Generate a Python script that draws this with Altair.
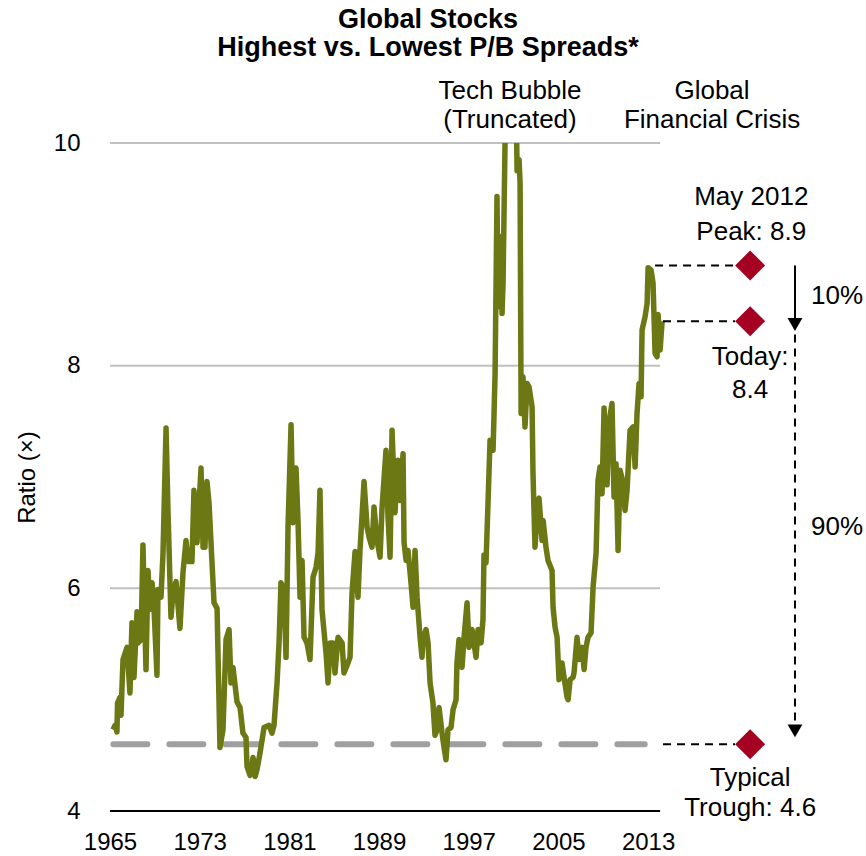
import altair as alt
import pandas as pd

# Highest vs. lowest P/B spread ratio, global stocks (time in fractional years)
years = [
    1965.27, 1965.45, 1965.62, 1965.67, 1965.89, 1965.98, 1966.16, 1966.52, 1966.78, 1966.96,
    1967.14, 1967.41, 1967.50, 1967.77, 1967.94, 1968.21, 1968.39, 1968.57, 1968.75, 1968.93,
    1969.19, 1969.28, 1969.55, 1969.73, 1970.00, 1970.17, 1970.44, 1970.62, 1970.89, 1971.24,
    1971.51, 1971.78, 1971.96, 1972.31, 1972.49, 1972.76, 1973.12, 1973.30, 1973.39, 1973.47,
    1973.65, 1973.83, 1974.10, 1974.28, 1974.55, 1974.81, 1975.08, 1975.35, 1975.62, 1975.79,
    1975.97, 1976.33, 1976.60, 1976.86, 1977.13, 1977.22, 1977.49, 1977.76, 1977.94, 1978.11,
    1978.38, 1978.74, 1979.18, 1979.45, 1979.63, 1979.90, 1980.08, 1980.25, 1980.52, 1980.70,
    1980.88, 1981.15, 1981.32, 1981.59, 1981.77, 1981.95, 1982.13, 1982.31, 1982.57, 1982.84,
    1983.11, 1983.38, 1983.56, 1983.73, 1983.91, 1984.27, 1984.45, 1984.63, 1984.89, 1985.07,
    1985.34, 1985.70, 1985.87, 1986.23, 1986.41, 1986.59, 1986.86, 1987.12, 1987.30, 1987.66,
    1987.93, 1988.11, 1988.37, 1988.55, 1988.82, 1989.09, 1989.27, 1989.62, 1989.80, 1989.98,
    1990.16, 1990.42, 1990.69, 1990.87, 1991.14, 1991.23, 1991.41, 1991.58, 1991.85, 1992.03,
    1992.21, 1992.39, 1992.66, 1992.83, 1992.92, 1993.19, 1993.37, 1993.55, 1993.81, 1993.99,
    1994.17, 1994.35, 1994.62, 1994.80, 1994.97, 1995.15, 1995.42, 1995.60, 1995.87, 1995.95,
    1996.13, 1996.40, 1996.58, 1996.85, 1997.03, 1997.29, 1997.47, 1997.65, 1997.83, 1998.10,
    1998.27, 1998.36, 1998.54, 1998.72, 1998.90, 1999.17, 1999.35, 1999.52, 1999.61, 1999.88,
    1999.97, 2000.06, 2000.24, 2000.33, 2000.59, 2000.86, 2001.13, 2001.31, 2001.49, 2001.58,
    2001.67, 2001.84, 2002.02, 2002.20, 2002.38, 2002.65, 2002.73, 2002.91, 2003.18, 2003.27,
    2003.54, 2003.63, 2003.89, 2004.07, 2004.43, 2004.52, 2004.70, 2004.88, 2005.05, 2005.32,
    2005.50, 2005.77, 2005.86, 2006.04, 2006.30, 2006.39, 2006.66, 2006.84, 2007.11, 2007.29,
    2007.46, 2007.64, 2007.91, 2008.09, 2008.36, 2008.53, 2008.71, 2008.89, 2009.07, 2009.34,
    2009.52, 2009.78, 2009.96, 2010.14, 2010.32, 2010.50, 2010.77, 2010.94, 2011.12, 2011.39,
    2011.66, 2011.84, 2012.01, 2012.19, 2012.37, 2012.46, 2012.73, 2012.91, 2013.00, 2013.26,
    2013.44, 2013.62, 2013.80, 2013.89, 2014.07, 2014.25,
]
ratio = [
    4.73, 4.77, 4.71, 4.97, 5.02, 4.86, 5.36, 5.47, 5.06, 5.69,
    5.20, 5.79, 5.51, 5.54, 6.39, 5.27, 6.16, 5.81, 6.05, 5.81,
    5.22, 5.99, 5.92, 6.32, 7.44, 6.70, 5.74, 5.96, 6.06, 5.64,
    6.14, 6.43, 6.24, 6.24, 6.88, 6.41, 7.08, 6.37, 6.70, 6.37,
    6.96, 6.77, 6.23, 5.87, 5.82, 4.57, 4.73, 5.54, 5.63, 5.15,
    5.29, 4.98, 4.93, 4.70, 4.66, 4.40, 4.32, 4.48, 4.31, 4.37,
    4.52, 4.75, 4.77, 4.70, 4.77, 5.15, 5.51, 6.05, 5.99, 5.38,
    6.55, 7.47, 6.59, 7.08, 6.61, 5.92, 6.25, 5.56, 5.51, 5.36,
    6.10, 6.19, 6.32, 6.88, 5.81, 5.42, 5.15, 5.51, 5.51, 5.24,
    5.56, 5.51, 5.24, 5.33, 5.38, 5.96, 6.33, 5.92, 6.34, 6.96,
    6.55, 6.46, 6.37, 6.73, 6.43, 6.28, 6.73, 7.24, 6.64, 6.28,
    7.42, 6.68, 7.15, 6.79, 7.21, 6.41, 6.25, 6.34, 6.05, 5.83,
    6.34, 5.92, 5.56, 5.38, 5.54, 5.63, 5.51, 5.15, 4.97, 4.68,
    4.73, 4.93, 4.70, 4.57, 4.46, 4.73, 4.75, 4.91, 5.00, 5.33,
    5.54, 5.29, 5.56, 5.87, 5.47, 5.63, 5.51, 5.38, 5.63, 5.51,
    5.72, 6.30, 6.23, 6.77, 7.33, 7.24, 7.93, 9.52, 8.53, 9.16,
    8.47, 8.74, 10.03, 10.60, 12.00, 12.60, 11.20, 9.75, 9.85, 9.64,
    7.57, 7.90, 7.45, 7.84, 7.81, 7.63, 7.04, 6.37, 6.79, 6.81,
    6.43, 6.61, 6.37, 6.25, 6.16, 5.83, 5.65, 5.56, 5.18, 5.33,
    5.20, 5.02, 5.00, 5.18, 5.20, 5.24, 5.56, 5.36, 5.47, 5.27,
    5.47, 5.56, 5.60, 6.01, 6.32, 6.97, 7.09, 6.85, 7.62, 6.93,
    7.50, 7.66, 6.82, 7.12, 6.34, 7.06, 6.95, 6.70, 6.88, 7.42,
    7.45, 7.09, 7.57, 7.84, 7.72, 8.32, 8.44, 8.56, 8.88, 8.86,
    8.74, 8.11, 8.08, 8.46, 8.14, 8.40,
]

# Reference levels
grid_levels = [6, 8, 10]
axis_span = [1965.0, 2014.07]
peak_value = 8.9
today_value = 8.4
trough_value = 4.6
marker_year = 2022.1
arrow_year = 2026.1

# Annotation texts: (text, year, ratio)
note_text = ["Tech Bubble", "(Truncated)", "Global", "Financial Crisis",
             "May 2012", "Peak: 8.9", "Today:", "8.4",
             "Typical", "Trough: 4.6", "10%", "90%"]
note_x = [2000.68, 2000.68, 2018.70, 2018.70,
          2022.2, 2022.2, 2022.1, 2022.1,
          2022.1, 2022.1, 2029.85, 2029.85]
note_y = [10.47, 10.21, 10.47, 10.21,
          9.515, 9.20, 8.08, 7.78,
          4.30, 4.03, 8.63, 6.55]

tick_years = [1965, 1973, 1981, 1989, 1997, 2005, 2013]

FONT = "Liberation Sans"
OLIVE = "#6B7814"
RED = "#A50021"
FS = 24
NOTE_FS = 26

x_scale = alt.Scale(domain=[1965, 2031.9], nice=False, zero=False)
y_scale = alt.Scale(domain=[4, 10], nice=False, zero=False)

x_axis = alt.Axis(values=tick_years, format="d", domain=False, ticks=False, grid=False,
                  labelFont=FONT, labelFontSize=FS, labelColor="black",
                  labelPadding=19, title=None, labelFlush=False)
y_axis = alt.Axis(values=[4, 6, 8, 10], format="d", domain=False, ticks=False, grid=False,
                  labelFont=FONT, labelFontSize=FS, labelColor="black", labelPadding=30,
                  title="Ratio (×)", titleFont=FONT, titleFontSize=FS,
                  titleFontWeight="normal", titleColor="black", titlePadding=14)


def X(field):
    return alt.X(field, type="quantitative", scale=x_scale, axis=x_axis)


def Y(field):
    return alt.Y(field, type="quantitative", scale=y_scale, axis=y_axis)


series = pd.DataFrame({"year": years, "ratio": ratio})

grid_df = pd.DataFrame({"level": grid_levels, "x0": axis_span[0], "x1": axis_span[1]})
grid = alt.Chart(grid_df).mark_rule(color="#C0C0C0", strokeWidth=2).encode(
    x=X("x0"), x2="x1", y=Y("level"))

base_df = pd.DataFrame({"level": [4], "x0": [axis_span[0]], "x1": [axis_span[1]]})
baseline = alt.Chart(base_df).mark_rule(color="black", strokeWidth=2).encode(
    x=X("x0"), x2="x1", y=Y("level"))

trough_df = pd.DataFrame({"level": [trough_value], "x0": [1965.3], "x1": [2012.7]})
trough_line = alt.Chart(trough_df).mark_rule(
    color="#A0A0A0", strokeWidth=6, strokeDash=[34, 22], strokeCap="round"
).encode(x=X("x0"), x2="x1", y=Y("level"))

line = alt.Chart(series).mark_line(
    color=OLIVE, strokeWidth=5.5, strokeJoin="round", clip=True
).encode(x=X("year"), y=Y("ratio"))

leader_df = pd.DataFrame({
    "level": [peak_value, today_value, trough_value],
    "x0": [2013.62, 2014.33, 2014.33],
    "x1": [2020.75, 2020.75, 2020.75],
})
leaders = alt.Chart(leader_df).mark_rule(
    color="black", strokeWidth=2, strokeDash=[8, 6]
).encode(x=X("x0"), x2="x1", y=Y("level"))

marker_df = pd.DataFrame({"year": marker_year,
                          "level": [peak_value, today_value, trough_value]})
markers = alt.Chart(marker_df).mark_point(
    shape="diamond", filled=True, size=900, color=RED, opacity=1
).encode(x=X("year"), y=Y("level"))

arrow_solid_df = pd.DataFrame({"year": [arrow_year], "y0": [peak_value], "y1": [8.40]})
arrow_solid = alt.Chart(arrow_solid_df).mark_rule(color="black", strokeWidth=2).encode(
    x=X("year"), y=Y("y0"), y2="y1")

arrow_dash_df = pd.DataFrame({"year": [arrow_year], "y0": [8.28], "y1": [4.75]})
arrow_dash = alt.Chart(arrow_dash_df).mark_rule(
    color="black", strokeWidth=2, strokeDash=[8, 6]).encode(
    x=X("year"), y=Y("y0"), y2="y1")

head_df = pd.DataFrame({"year": [arrow_year, arrow_year], "level": [8.37, 4.72]})
heads = alt.Chart(head_df).mark_point(
    shape="triangle-down", filled=True, size=220, color="black", opacity=1
).encode(x=X("year"), y=Y("level"))

notes_df = pd.DataFrame({"text": note_text, "x": note_x, "y": note_y})
notes = alt.Chart(notes_df).mark_text(
    font=FONT, fontSize=NOTE_FS, color="black", align="center", baseline="middle"
).encode(x=X("x"), y=Y("y"), text="text:N")

chart = alt.layer(
    grid, baseline, trough_line, line, leaders, markers,
    arrow_solid, arrow_dash, heads, notes,
).properties(
    width=750,
    height=668,
    title=alt.Title(
        ["Global Stocks", "Highest vs. Lowest P/B Spreads*"],
        font=FONT, fontSize=27, fontWeight="bold", color="black",
        anchor="middle", dx=-57, offset=16, lineHeight=28,
    ),
    autosize=alt.AutoSizeParams(type="none"),
    padding={"left": 110, "top": 143, "right": 6, "bottom": 45},
).configure_view(stroke=None)

chart.save("out.html", embed_options={"renderer": "svg", "actions": False})
